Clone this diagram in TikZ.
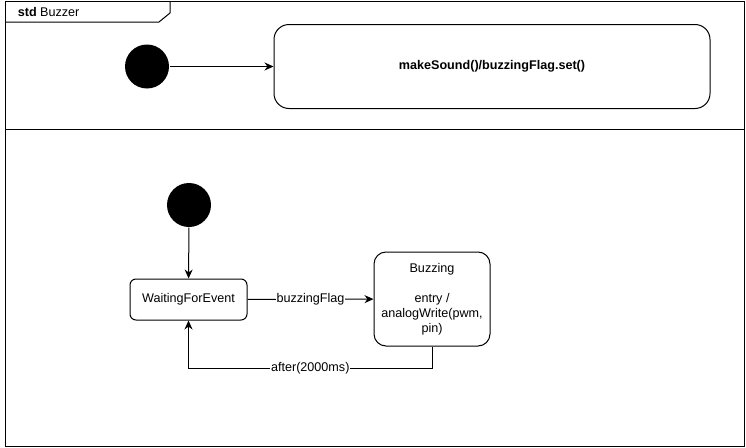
\documentclass[tikz,border=0pt]{standalone}
\usepackage{fontspec}
\setmainfont{Liberation Sans}
\usetikzlibrary{arrows.meta}

\begin{document}
\begin{tikzpicture}[x=1pt, y=-1pt, line width=1pt, >={Stealth[length=9pt,width=8pt]},
		every node/.style={font=\fontsize{12.6}{15}\selectfont},
		initial/.style={circle, fill=black, minimum size=44pt, inner sep=0pt},
		state/.style={draw, rounded corners=6pt, align=center, inner sep=0pt},
		trigger/.style={fill=white, inner sep=1pt}]
			\useasboundingbox (0,0) rectangle (746,447);
			% frame and tab
			\draw (5,1) rectangle (744,446);
			\draw (5,129) -- (744,129);
			\draw (170,1) -- (170,13) -- (159,22) -- (5,22);
			\node[anchor=west] (title) at (14,12) {\textbf{std} Buzzer};
			% upper region
			\node[initial] (init1) at (147,66.5) {};
			\node[state, rounded corners=15pt, minimum width=436pt, minimum height=84pt] (sound) at (492,66.5) {\textbf{makeSound()/buzzingFlag.set()}};
			\draw[->] (init1) -- (sound);
			% lower region
			\node[initial] (init2) at (189,205) {};
			\node[state, minimum width=117pt, minimum height=41pt] (wait) at (188.5,299.5) {WaitingForEvent};
			\node[state, rounded corners=12pt, minimum width=116pt, minimum height=94pt] (buzz) at (432,299) {Buzzing\\\mbox{}\\entry /\\analogWrite(pwm,\\pin)};
			\coordinate (back) at (432,368);
			\draw[->] (init2) -- (wait);
			\draw[->] (wait) -- node[trigger] {buzzingFlag} (buzz);
			\draw[->] (buzz.south) -- (back) -- node[trigger] {after(2000ms)} (back -| wait.south) -- (wait.south);
		\end{tikzpicture}
\end{document}
